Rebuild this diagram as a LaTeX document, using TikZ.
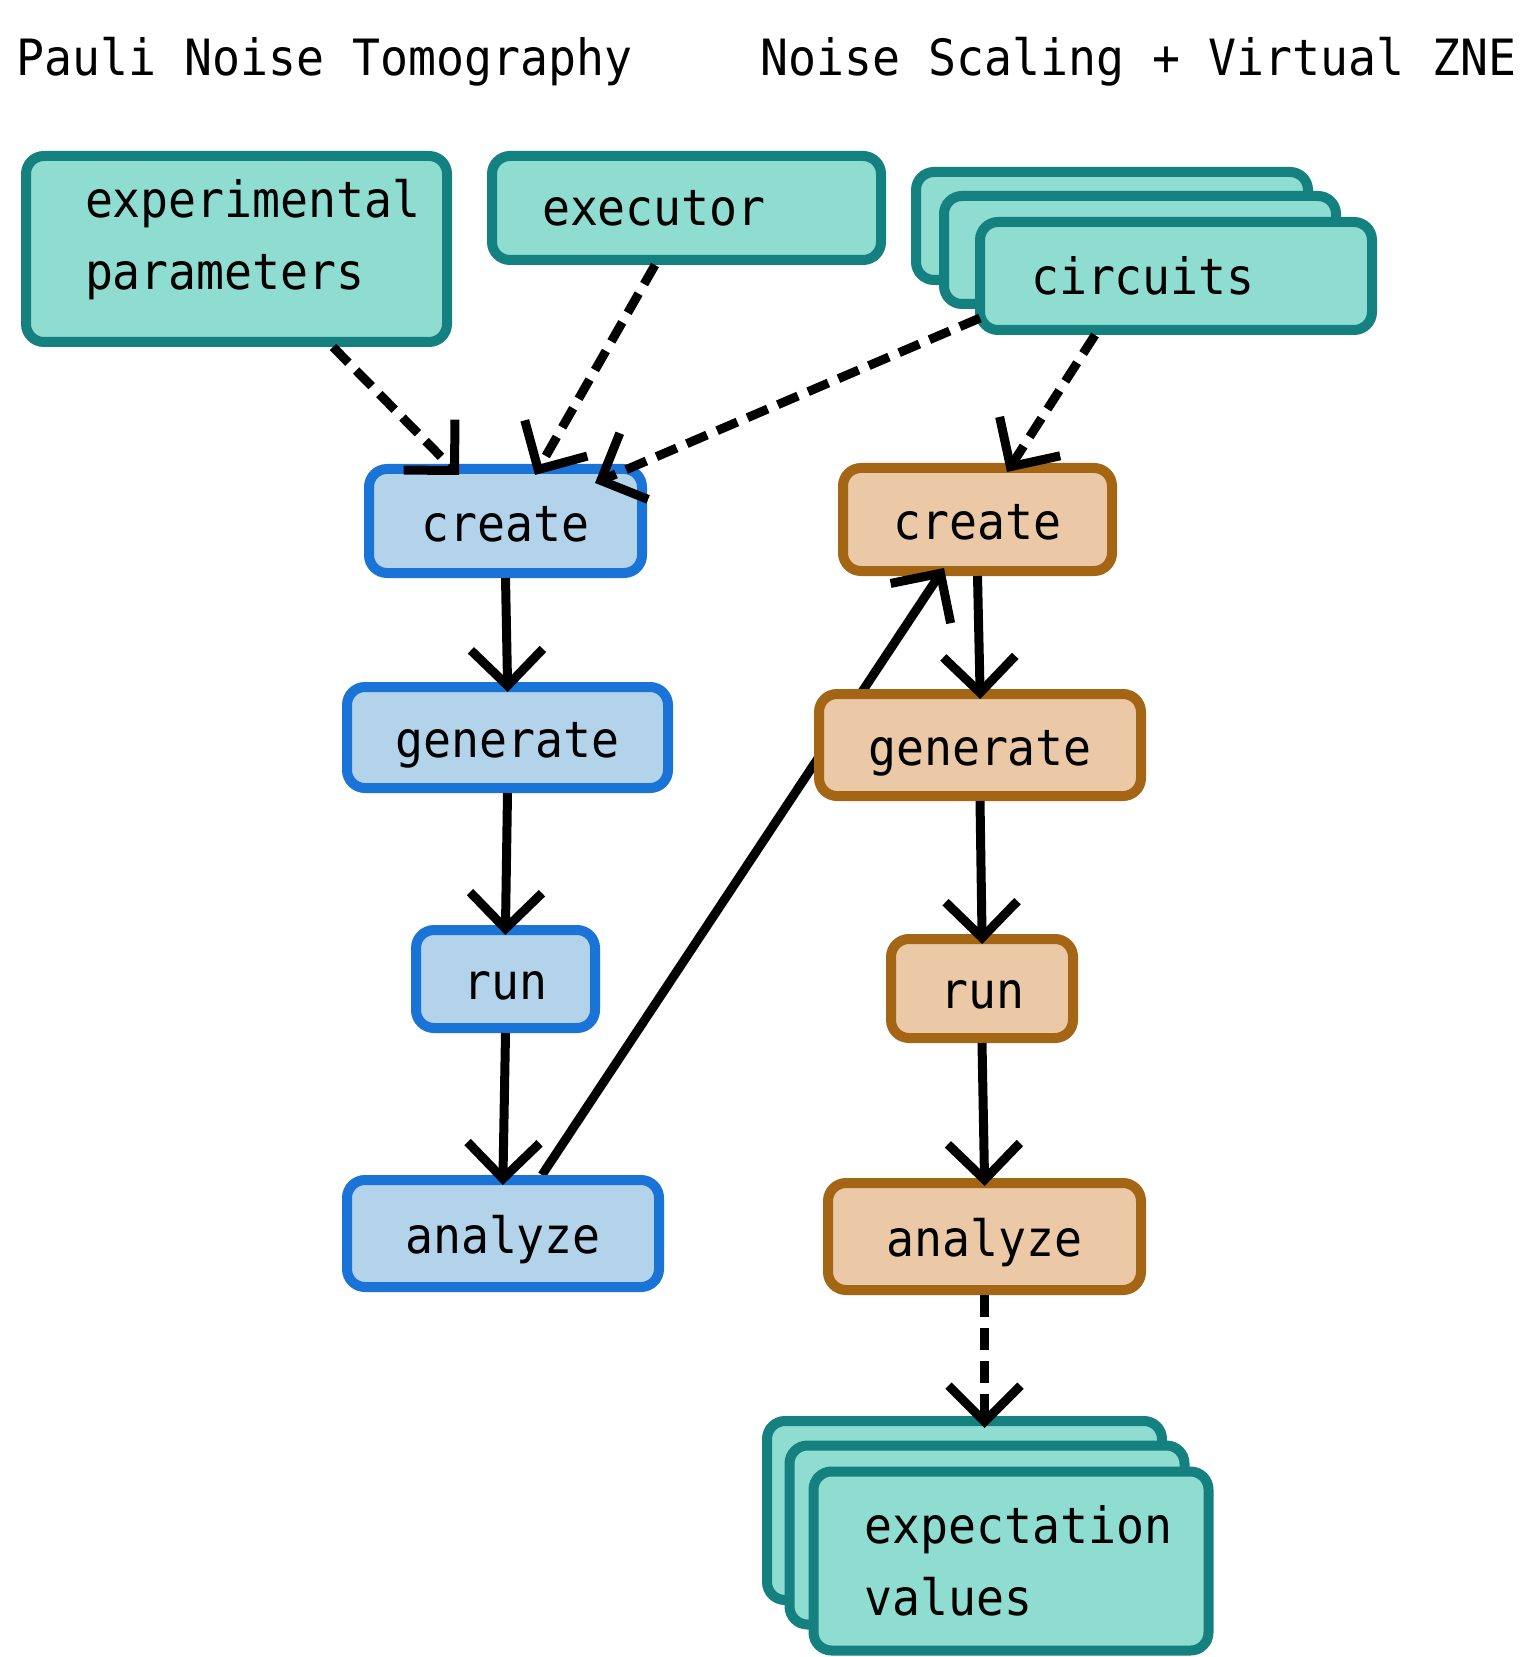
\documentclass[tikz,border=0pt]{standalone}
\usepackage{fontspec}
\newfontfamily\monof[HyphenChar=None,FakeStretch=0.93]{DejaVu Sans Mono}
\usetikzlibrary{arrows.meta,calc}
\pgfdeclarelayer{bg}
\pgfsetlayers{bg,main}
\definecolor{tealL}{HTML}{8FDDD0}
\definecolor{tealD}{HTML}{148080}
\definecolor{blueL}{HTML}{B3D3EA}
\definecolor{blueD}{HTML}{1A73D6}
\definecolor{orL}{HTML}{EBC8A6}
\definecolor{orD}{HTML}{A46514}
\begin{document}
\begin{tikzpicture}[x=0.5pt,y=-0.5pt,
  lbl/.style={font=\monof\fontsize{25}{36}\selectfont},
  box/.style={lbl, draw, line width=5pt, rounded corners=9pt, inner sep=0pt},
  tbox/.style={box, draw=tealD, fill=tealL, align=left},
  fbox/.style={box, text height=20pt, text depth=0pt},
  bbox/.style={fbox, draw=blueD, fill=blueL},
  obox/.style={fbox, draw=orD, fill=orL},
  conn/.style={line width=4.5pt, -{Straight Barb[length=18pt,width=36pt,sharp]}},
  sarr/.style={conn},
  darr/.style={conn, dash pattern=on 11pt off 5.5pt},
  plain/.style={line width=4.5pt}
]
\begin{pgfonlayer}{bg}
\fill[white] (0,0) rectangle (1522,1657);
\end{pgfonlayer}
\useasboundingbox (0,0) rectangle (1522,1657);

% titles
\node[lbl, anchor=base west, inner sep=0pt] (t1) at (16.5,76) {Pauli Noise Tomography};
\node[lbl, anchor=base west, inner sep=0pt] (t2) at (760,76) {Noise Scaling + Virtual ZNE};

% inputs
\node[tbox, minimum width=210.5pt, minimum height=93pt, text width=151.5pt, text depth=51pt] (ep) at (236.5,249) {experimental\\parameters};
\node[tbox, minimum width=194.5pt, minimum height=52pt, text width=144.5pt] (ex) at (686.5,208) {executor};
\node[tbox, minimum width=196pt, minimum height=54pt] (ci3) at (1112,226) {};
\node[tbox, minimum width=196pt, minimum height=54pt] (ci2) at (1140,250) {};
\node[tbox, minimum width=196pt, minimum height=54pt, text width=145pt] (ci) at (1176,276) {circuits};

% left column
\node[bbox, minimum width=136.5pt, minimum height=52pt] (Lc) at (505.5,521) {create};
\node[bbox, minimum width=160.5pt, minimum height=50.5pt] (Lg) at (507.5,737.5) {generate};
\node[bbox, minimum width=89.5pt, minimum height=49pt] (Lr) at (505.5,979) {run};
\node[bbox, minimum width=156pt, minimum height=53.5pt] (La) at (503,1233.5) {analyze};

% right column
\node[obox, minimum width=134.5pt, minimum height=51.5pt] (Rc) at (977.5,519.5) {create};
\node[obox, minimum width=161pt, minimum height=51pt] (Rg) at (980,745) {generate};
\node[obox, minimum width=91pt, minimum height=49.5pt] (Rr) at (982,988.5) {run};
\node[obox, minimum width=156.5pt, minimum height=53.5pt] (Ra) at (984.5,1236.5) {analyze};

% outputs
\node[tbox, minimum width=197.5pt, minimum height=89.5pt] (ev3) at (964.5,1510.5) {};
\node[tbox, minimum width=197.5pt, minimum height=89.5pt] (ev2) at (987,1535) {};
\node[tbox, minimum width=197.5pt, minimum height=89.5pt, text width=146.5pt] (ev) at (1011,1561) {expectation\\values};

% solid flow arrows
\draw[sarr, shorten >=-5pt] (Lc.south) -- (Lg.north);
\draw[sarr, shorten >=-5pt] (Lg.south) -- (Lr.north);
\draw[sarr, shorten >=-5pt] (Lr.south) -- (La.north);
\draw[sarr, shorten >=-5pt] (Rc.south) -- (Rg.north);
\draw[sarr, shorten >=-5pt] (Rg.south) -- (Rr.north);
\draw[sarr, shorten >=-4pt] (Rr.south) -- (Ra.north);

% analyze -> create (passes behind generate)
\coordinate (lao) at ($(La.north)+(39,0)$);
\coordinate (rcin) at ($(Rc.south)+(-33.5,-8)$);
\coordinate (lamid) at ($(lao)!0.83!(rcin)$);
\begin{pgfonlayer}{bg}
\draw[plain] (lao) -- (lamid);
\end{pgfonlayer}
\draw[sarr] (lamid) -- (rcin);

% dashed inputs
\coordinate (epo) at ($(ep.south)+(96.5,0)$);
\coordinate (lci1) at ($(Lc.north)+(-46.5,11)$);
\draw[darr] (epo) -- (lci1);
\coordinate (exo) at ($(ex.south)+(-31.5,0)$);
\coordinate (lci2) at ($(Lc.north)+(29.5,11)$);
\draw[darr] (exo) -- (lci2);
\coordinate (cio1) at ($(ci.south west)+(5,-17)$);
\coordinate (lci3) at ($(Lc.north east)+(-52,19)$);
\draw[darr] (cio1) -- (lci3);
\coordinate (cio2) at ($(ci.south)+(-81,0)$);
\coordinate (rci) at ($(Rc.north)+(29.5,9)$);
\draw[darr] (cio2) -- (rci);
\coordinate (evin) at ($(ev3.north)+(0,12)$);
\draw[darr] (Ra.south) -- (Ra.south |- evin);
\end{tikzpicture}
\end{document}
